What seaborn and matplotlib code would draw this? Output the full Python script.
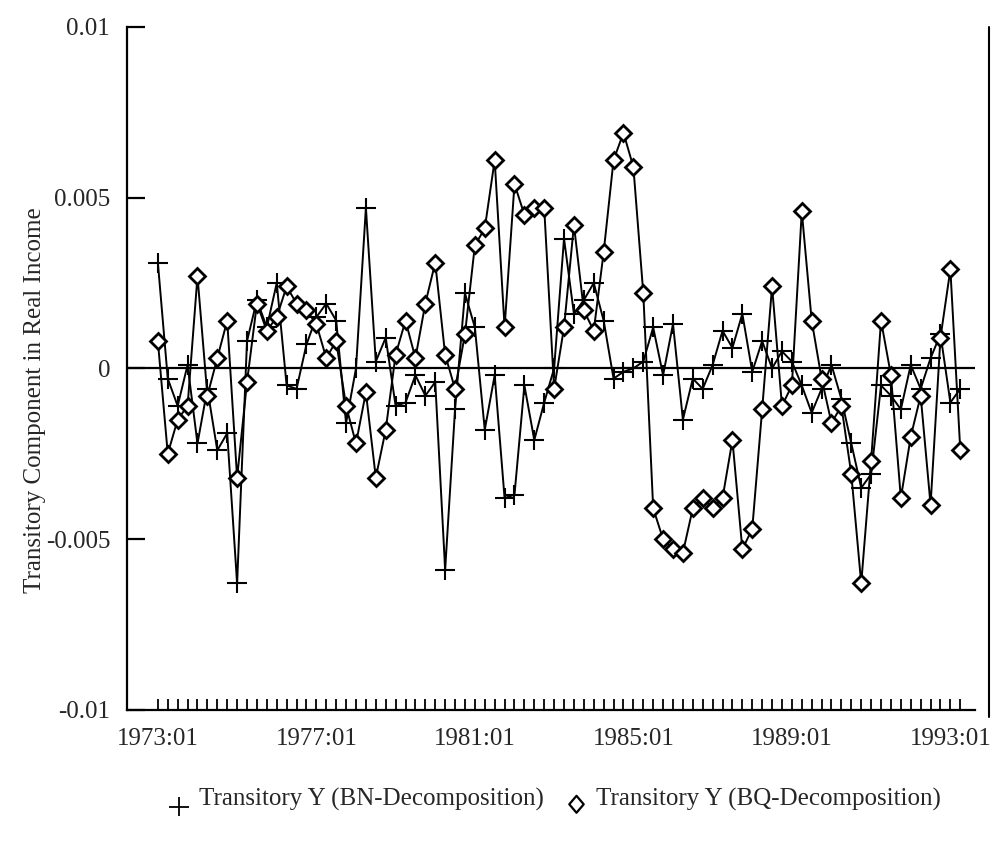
import numpy as np
import pandas as pd
import matplotlib
matplotlib.use("Agg")
import matplotlib.pyplot as plt
import seaborn as sns
from matplotlib.lines import Line2D
from matplotlib.path import Path

# Quarterly observations, 1973:01 - 1993:02
quarters = [f"{y}:{q:02d}" for y in range(1973, 1994) for q in range(1, 5)][:82]

# Transitory income, Beveridge-Nelson decomposition
bn_values = [
    0.0031, -0.0003, -0.0011, 0.0001, -0.0022, -0.0006, -0.0024, -0.0019,
    -0.0063, 0.0008, 0.0020, 0.0012, 0.0025, -0.0005, -0.0006, 0.0007,
    0.0015, 0.0019, 0.0014, -0.0016, 0.0000, 0.0047, 0.0002, 0.0009,
    -0.0011, -0.0010, -0.0002, -0.0008, -0.0004, -0.0059, -0.0012, 0.0022,
    0.0012, -0.0018, -0.0002, -0.0038, -0.0037, -0.0005, -0.0021, -0.0010,
    0.0000, 0.0038, 0.0016, 0.0020, 0.0025, 0.0014, -0.0003, -0.0001,
    0.0000, 0.0002, 0.0012, -0.0002, 0.0013, -0.0015, -0.0003, -0.0006,
    0.0001, 0.0011, 0.0006, 0.0016, -0.0001, 0.0008, 0.0000, 0.0005,
    0.0002, -0.0005, -0.0013, -0.0006, 0.0001, -0.0009, -0.0022, -0.0035,
    -0.0031, -0.0005, -0.0008, -0.0012, 0.0001, -0.0006, 0.0003, 0.0010,
    -0.0010, -0.0006,
]

# Transitory income, Blanchard-Quah decomposition
bq_values = [
    0.0008, -0.0025, -0.0015, -0.0011, 0.0027, -0.0008, 0.0003, 0.0014,
    -0.0032, -0.0004, 0.0019, 0.0011, 0.0015, 0.0024, 0.0019, 0.0017,
    0.0013, 0.0003, 0.0008, -0.0011, -0.0022, -0.0007, -0.0032, -0.0018,
    0.0004, 0.0014, 0.0003, 0.0019, 0.0031, 0.0004, -0.0006, 0.0010,
    0.0036, 0.0041, 0.0061, 0.0012, 0.0054, 0.0045, 0.0047, 0.0047,
    -0.0006, 0.0012, 0.0042, 0.0017, 0.0011, 0.0034, 0.0061, 0.0069,
    0.0059, 0.0022, -0.0041, -0.0050, -0.0053, -0.0054, -0.0041, -0.0038,
    -0.0041, -0.0038, -0.0021, -0.0053, -0.0047, -0.0012, 0.0024, -0.0011,
    -0.0005, 0.0046, 0.0014, -0.0003, -0.0016, -0.0011, -0.0031, -0.0063,
    -0.0027, 0.0014, -0.0002, -0.0038, -0.0020, -0.0008, -0.0040, 0.0009,
    0.0029, -0.0024,
]

x_labels = ["1973:01", "1977:01", "1981:01", "1985:01", "1989:01", "1993:01"]
y_ticks = [-0.01, -0.005, 0.0, 0.005, 0.01]
y_labels = ["-0.01", "-0.005", "0", "0.005", "0.01"]
series_names = ["Transitory Y (BN-Decomposition)", "Transitory Y (BQ-Decomposition)"]

df = pd.DataFrame({
    "obs": np.arange(len(quarters)),
    "quarter": quarters,
    "BN": bn_values,
    "BQ": bq_values,
})

sns.set_style("ticks")
plt.rcParams["font.family"] = ["Liberation Serif", "DejaVu Serif"]

fig = plt.figure(figsize=(9.91, 8.42), dpi=100)
ax = fig.add_axes([0.128, 0.157, 0.856, 0.811])

ax.axhline(0, color="black", lw=1.6, zorder=1)
sns.lineplot(data=df, x="obs", y="BN", ax=ax, color="black", lw=1.4,
             marker="+", markersize=14, markeredgewidth=1.5,
             markeredgecolor="black", zorder=2)
sns.lineplot(data=df, x="obs", y="BQ", ax=ax, color="black", lw=1.4,
             marker="D", markersize=8.5, markerfacecolor="white",
             markeredgecolor="black", markeredgewidth=2.0, zorder=3)

ax.set_xlim(-3.13, 82.5)
ax.set_ylim(-0.01, 0.01)
label_pos = [quarters.index(q) for q in x_labels]
ax.set_xticks(label_pos)
ax.set_xticklabels(x_labels, fontsize=18)
ax.set_xticks(df["obs"], minor=True)
ax.set_yticks(y_ticks)
ax.set_yticklabels(y_labels, fontsize=18)
ax.set_xlabel("")
ax.set_ylabel("")

ax.tick_params(axis="x", which="both", direction="in", length=8, width=1.3,
               pad=13, color="black")
ax.tick_params(axis="y", direction="in", length=13, width=1.6, pad=12,
               color="black")
for side in ("top", "right"):
    ax.spines[side].set_visible(False)
for side in ("left", "bottom"):
    ax.spines[side].set_linewidth(1.6)
    ax.spines[side].set_color("black")

# thin frame line along the right edge of the page
fig.add_artist(Line2D([0.998, 0.998], [0.148, 0.968], transform=fig.transFigure,
                      color="black", lw=1.5))

fig.text(0.035, 0.525, "Transitory Component in Real Income", rotation=90,
         ha="center", va="center", fontsize=18)

# legend symbols sit on the text baseline
plus_low = Path([(-1, -1.0), (1, -1.0), (0, -2.0), (0, 0.0)],
                [Path.MOVETO, Path.LINETO, Path.MOVETO, Path.LINETO])
diamond_low = Path([(0, -1.8), (0.85, -0.8), (0, 0.2), (-0.85, -0.8), (0, -1.8)],
                   [Path.MOVETO, Path.LINETO, Path.LINETO, Path.LINETO,
                    Path.CLOSEPOLY])
handles = [
    Line2D([], [], color="black", ls="none", marker=plus_low, markersize=28,
           markeredgewidth=1.3, markerfacecolor="none"),
    Line2D([], [], color="black", ls="none", marker=diamond_low, markersize=22,
           markerfacecolor="white", markeredgewidth=1.6),
]
fig.legend(handles, series_names, loc="center", bbox_to_anchor=(0.56, 0.05),
           ncol=2, frameon=False, fontsize=18, handlelength=0.8,
           handletextpad=0.4, columnspacing=0.9)

fig.savefig("out.png", dpi=100)
